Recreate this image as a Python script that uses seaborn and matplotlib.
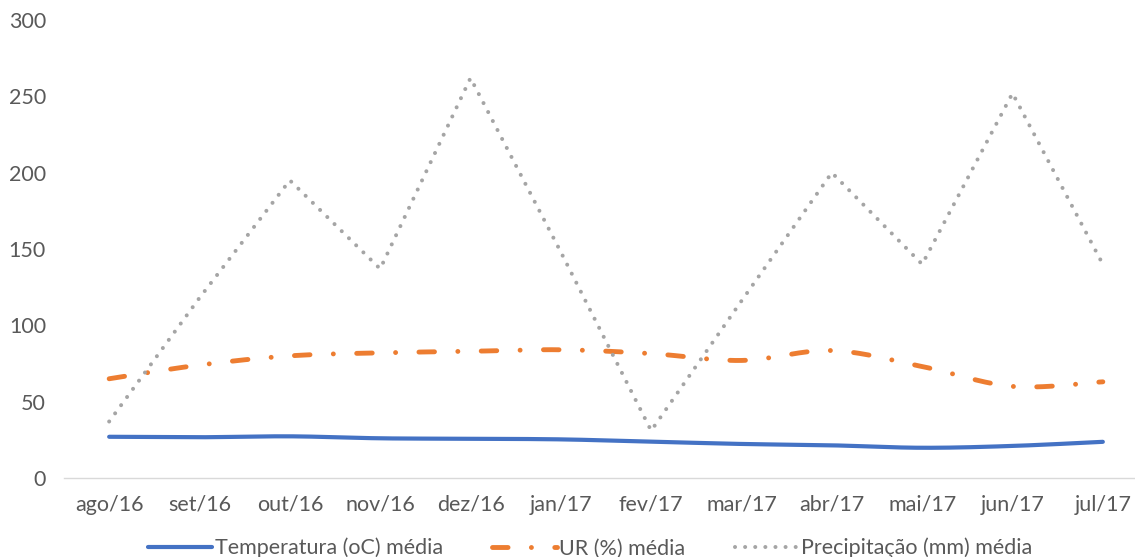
import numpy as np
import matplotlib
matplotlib.use("Agg")
import matplotlib.pyplot as plt
import seaborn as sns
from matplotlib.lines import Line2D

months = ['ago/16', 'set/16', 'out/16', 'nov/16', 'dez/16', 'jan/17',
          'fev/17', 'mar/17', 'abr/17', 'mai/17', 'jun/17', 'jul/17']
temperatura = [27, 26.7, 27.3, 26, 25.7, 25.3, 23.8, 22.3, 21.4, 19.8, 21, 23.7]
ur = [65, 74, 80, 82, 83, 84, 81.5, 77, 83.5, 73, 60, 63]
precipitacao = [37, 118, 195, 137, 262, 148, 31, 116, 200, 140, 252, 140]

labels = ['Temperatura (oC) média', 'UR (%) média', 'Precipitação (mm) média']
colors = ['#4472C4', '#ED7D31', '#A5A5A5']


def smooth(vals, n=30):
    """Catmull-Rom curve through the points (like Excel's smoothed line)."""
    y = np.asarray(vals, float)
    x = np.arange(len(y), dtype=float)
    px = np.concatenate([[x[0]], x, [x[-1]]])
    py = np.concatenate([[y[0]], y, [y[-1]]])
    xs, ys = [], []
    t = np.linspace(0, 1, n, endpoint=False)
    for i in range(1, len(px) - 2):
        p0, p1, p2, p3 = py[i - 1], py[i], py[i + 1], py[i + 2]
        q0, q1, q2, q3 = px[i - 1], px[i], px[i + 1], px[i + 2]
        def cr(a, b, c, d):
            return 0.5 * ((2 * b) + (-a + c) * t + (2 * a - 5 * b + 4 * c - d) * t ** 2
                          + (-a + 3 * b - 3 * c + d) * t ** 3)
        xs.append(cr(q0, q1, q2, q3))
        ys.append(cr(p0, p1, p2, p3))
    xs.append([x[-1]])
    ys.append([y[-1]])
    return np.concatenate(xs), np.concatenate(ys)


sns.set_theme(style='white')
plt.rcParams['font.family'] = ['Lato', 'DejaVu Sans']

fig = plt.figure(figsize=(11.35, 5.57), dpi=100)
ax = fig.add_axes([64 / 1135, 79 / 557, 1084 / 1135, 458 / 557])

LW_T, LW_U, LW_P = 3.0, 3.5, 2.9
DASH_U = (0, (3.2, 4.8, 0.01, 4.8))
DOT_P = (0, (0.01, 2.5))

tx, ty = smooth(temperatura)
sns.lineplot(x=tx, y=ty, ax=ax, color=colors[0], linewidth=LW_T, sort=False)
ux, uy = smooth(ur)
sns.lineplot(x=ux, y=uy, ax=ax, color=colors[1], linewidth=LW_U, sort=False)
sns.lineplot(x=np.arange(len(months)), y=precipitacao, ax=ax, color=colors[2],
             linewidth=LW_P)

lines = ax.get_lines()
lines[0].set_solid_capstyle('round')
lines[1].set_linestyle(DASH_U)
lines[1].set_dash_capstyle('round')
lines[2].set_linestyle(DOT_P)
lines[2].set_dash_capstyle('round')

ax.set_xlim(-0.5, len(months) - 0.5)
ax.set_ylim(0, 300)
ax.set_yticks(range(0, 301, 50))
ax.set_xticks(range(len(months)))
ax.set_xticklabels(months)
ax.tick_params(axis='both', length=0, labelsize=15.5, colors='#595959')
ax.tick_params(axis='x', pad=12)
ax.tick_params(axis='y', pad=13)
for s in ['top', 'right', 'left']:
    ax.spines[s].set_visible(False)
ax.spines['bottom'].set_color('#D9D9D9')
ax.spines['bottom'].set_linewidth(1)
ax.grid(False)
ax.set_xlabel('')
ax.set_ylabel('')

handles = [
    Line2D([], [], color=colors[0], linewidth=LW_T, solid_capstyle='round'),
    Line2D([], [], color=colors[1], linewidth=LW_U, linestyle=DASH_U,
           dash_capstyle='round'),
    Line2D([], [], color=colors[2], linewidth=LW_P, linestyle=DOT_P,
           dash_capstyle='round'),
]
fig.legend(handles, labels, loc='center', bbox_to_anchor=(0.52, 0.016), ncol=3,
           frameon=False, fontsize=15.5, handlelength=3.0, handletextpad=0.1,
           columnspacing=2.3, labelcolor='#595959')

fig.savefig('out.png', dpi=100)
